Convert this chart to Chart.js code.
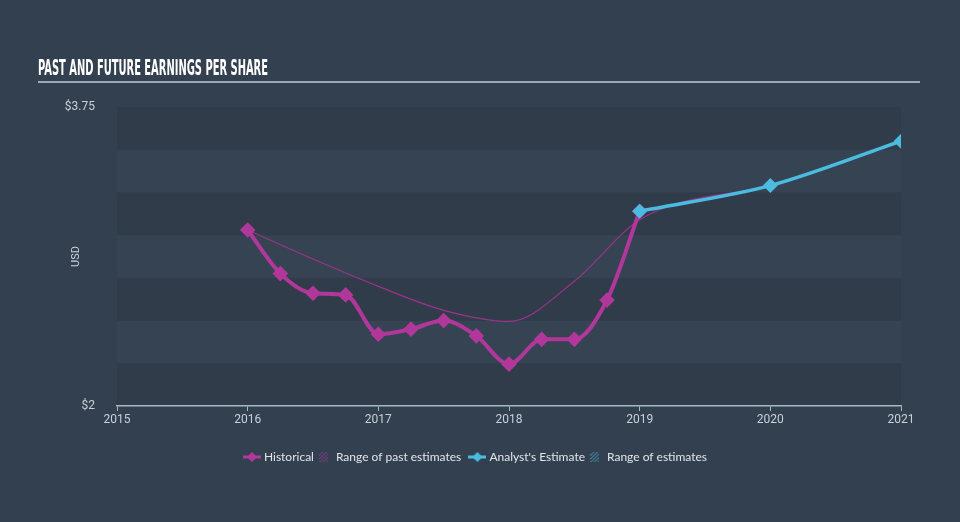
<!DOCTYPE html>
<html>
<head>
<meta charset="utf-8">
<script src="https://cdn.jsdelivr.net/npm/chart.js@4.4.1/dist/chart.umd.min.js"></script>
<style>
  html, body { margin: 0; padding: 0; background: #334050; }
  canvas { display: block; }
</style>
</head>
<body>
<canvas id="epsChart" width="960" height="522"></canvas>
<script>
// EPS data (USD)
const histYears = [2016, 2016.25, 2016.5, 2016.75, 2017, 2017.25, 2017.5, 2017.75, 2018, 2018.25, 2018.5, 2018.75, 2019];
const histEps = [3.03, 2.775, 2.66, 2.65, 2.42, 2.45, 2.50, 2.41, 2.245, 2.39, 2.39, 2.62, 3.14];
const pastRangeYears = [2016, 2016.5, 2017, 2017.5, 2018, 2018.5, 2019, 2020];
const pastRangeEps = [3.03, 2.86, 2.70, 2.56, 2.495, 2.73, 3.09, 3.29];
const estYears = [2019, 2020, 2021];
const estEps = [3.14, 3.29, 3.55];
const yTickValues = [2, 3.75];
const bandStep = 0.25;

const MAGENTA = '#b1379b';
const CYAN = '#4cbbe2';
const TEXT = '#c9d0d8';

const toPoints = (xs, ys) => xs.map((x, i) => ({ x: x, y: ys[i] }));

// little legend icons
function lineIcon(color) {
  const c = document.createElement('canvas');
  c.width = 18; c.height = 12;
  const g = c.getContext('2d');
  g.fillStyle = color;
  g.fillRect(0, 4.5, 18, 3);
  g.beginPath();
  g.moveTo(9, 1); g.lineTo(14, 6); g.lineTo(9, 11); g.lineTo(4, 6);
  g.closePath(); g.fill();
  return c;
}
function hatchIcon(color) {
  const c = document.createElement('canvas');
  c.width = 9; c.height = 10;
  const g = c.getContext('2d');
  g.strokeStyle = color;
  g.lineWidth = 1;
  g.globalAlpha = 0.75;
  for (let k = -10; k < 20; k += 3.5) {
    g.beginPath(); g.moveTo(k, 10); g.lineTo(k + 10, 0); g.stroke();
  }
  return c;
}

// striped plot background + title
const decor = {
  id: 'decor',
  beforeDraw(chart) {
    const { ctx, chartArea, scales } = chart;
    const y = scales.y;
    ctx.save();
    let i = 0;
    for (let v = y.min; v < y.max - 1e-9; v += bandStep, i++) {
      const top = y.getPixelForValue(v + bandStep);
      const bot = y.getPixelForValue(v);
      ctx.fillStyle = i % 2 === 0 ? '#303c4a' : '#354352';
      ctx.fillRect(chartArea.left, top, chartArea.right - chartArea.left, bot - top);
    }
    // title
    ctx.fillStyle = '#ffffff';
    ctx.font = 'bold 22px "Liberation Sans Narrow", "DejaVu Sans Condensed", sans-serif';
    ctx.textBaseline = 'alphabetic';
    const title = 'PAST AND FUTURE EARNINGS PER SHARE';
    const w = ctx.measureText(title).width;
    ctx.translate(38, 75);
    ctx.scale(230 / w, 1);
    ctx.fillText(title, 0, 0);
    ctx.restore();
    ctx.save();
    ctx.fillStyle = '#9ea7b1';
    ctx.fillRect(38, 81, 882, 2);
    ctx.restore();
  },
  afterLayout(chart) {
    chart.legend.left += 26;
    chart.legend.right += 26;
  }
};

new Chart(document.getElementById('epsChart').getContext('2d'), {
  type: 'line',
  data: {
    datasets: [
      {
        label: 'Historical',
        data: toPoints(histYears, histEps),
        borderColor: MAGENTA,
        backgroundColor: MAGENTA,
        borderWidth: 4,
        pointStyle: 'rectRot',
        pointRadius: 5,
        cubicInterpolationMode: 'monotone',
        order: 1
      },
      {
        label: 'Range of past estimates',
        data: toPoints(pastRangeYears, pastRangeEps),
        borderColor: '#9c338a',
        borderWidth: 1.2,
        pointRadius: 0,
        cubicInterpolationMode: 'monotone',
        order: 2
      },
      {
        label: "Analyst's Estimate",
        data: toPoints(estYears, estEps),
        borderColor: CYAN,
        backgroundColor: CYAN,
        borderWidth: 3.5,
        pointStyle: 'rectRot',
        pointRadius: 5,
        tension: 0.3,
        order: 0
      },
      {
        label: 'Range of estimates',
        data: [],
        borderColor: CYAN,
        order: 3
      }
    ]
  },
  options: {
    responsive: false,
    animation: false,
    layout: { padding: { left: 0, right: 59, top: 107, bottom: 49 } },
    scales: {
      x: {
        type: 'linear',
        min: 2015,
        max: 2021,
        ticks: {
          stepSize: 1,
          color: TEXT,
          font: { family: 'Roboto', size: 12 },
          padding: 2,
          callback: v => String(v)
        },
        grid: { drawOnChartArea: false, drawTicks: true, tickLength: 5, color: '#a9b6c4' },
        border: { display: true, color: '#a9b6c4', width: 1.5 },
        afterFit(scale) { scale.height = 41; }
      },
      y: {
        min: 2,
        max: 3.75,
        afterBuildTicks(scale) { scale.ticks = yTickValues.map(v => ({ value: v })); },
        ticks: {
          color: TEXT,
          font: { family: 'Roboto', size: 12 },
          padding: 14,
          callback: v => '$' + v
        },
        grid: { display: false },
        border: { display: false },
        title: {
          display: true,
          text: 'USD',
          color: TEXT,
          font: { family: 'Roboto', size: 11 },
          padding: { top: 70 }
        },
        afterFit(scale) { scale.width = 117; }
      }
    },
    plugins: {
      legend: {
        position: 'bottom',
        labels: {
          usePointStyle: true,
          pointStyleWidth: 12,
          padding: 4,
          color: '#e1e5ea',
          font: { family: 'Lato', size: 12 },
          generateLabels(chart) {
            const icons = [lineIcon(MAGENTA), hatchIcon(MAGENTA), lineIcon(CYAN), hatchIcon(CYAN)];
            const texts = ['Historical', 'Range of past estimates  ', "Analyst's Estimate", 'Range of estimates'];
            return chart.data.datasets.map((ds, i) => ({
              text: texts[i],
              pointStyle: icons[i],
              fillStyle: 'transparent',
              strokeStyle: 'transparent',
              lineWidth: 0,
              hidden: false,
              datasetIndex: i,
              fontColor: '#e1e5ea'
            }));
          }
        }
      },
      tooltip: { enabled: false }
    }
  },
  plugins: [decor]
});
</script>
</body>
</html>
